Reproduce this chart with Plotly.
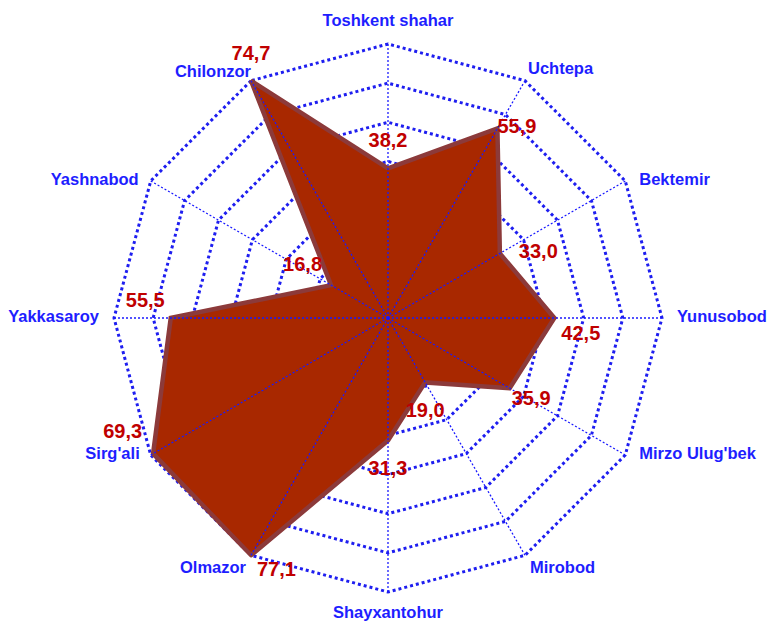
import plotly.graph_objects as go

categories = ["Toshkent shahar", "Uchtepa", "Bektemir", "Yunusobod", "Mirzo Ulug'bek",
              "Mirobod", "Shayxantohur", "Olmazor", "Sirg'ali", "Yakkasaroy",
              "Yashnabod", "Chilonzor"]
values = [38.2, 55.9, 33.0, 42.5, 35.9, 19.0, 31.3, 77.1, 69.3, 55.5, 16.8, 74.7]
r_max = 70
r_dtick = 10

# value-label placement (style only): side of the point and pixel distance from it
label_positions = ["top center", "middle right", "middle right", "bottom right",
                   "bottom right", "bottom center", "bottom center", "bottom right",
                   "top left", "top left", "top left", "top center"]
label_gap_px = [16, 0, 19, 7, 2, 20, 19, 6, 11, 6, 9, 16]

# category-label placement (style only)
cat_positions = ["top center", "top right", "middle right", "middle right",
                 "middle right", "bottom right", "bottom center", "bottom left",
                 "middle left", "middle left", "middle left", "top left"]
cat_gap_px = [14, 3, 14, 15, 14, 5, 14, 5, 11, 15, 12, 0]

plot_vals = [min(v, r_max) for v in values]          # axis maximum clips the shape
labels = [f"{v:.1f}".replace(".", ",") for v in values]


def gap_to_size(gaps):
    return [max(0.0, 1.6 * (g - 1)) for g in gaps]


BLUE = "rgb(30,30,255)"
GRID = "rgb(30,30,240)"
FONT = "Liberation Sans, Arial, sans-serif"
range_pad = 1.008
R_px = 274 * range_pad
cx, cy = 388, 318

fig = go.Figure()

# filled area
fig.add_trace(go.Scatterpolar(
    r=plot_vals + plot_vals[:1],
    theta=categories + categories[:1],
    mode="lines",
    fill="toself",
    fillcolor="rgb(168,40,0)",
    line=dict(color="rgb(140,58,58)", width=4.5),
    hoverinfo="skip", cliponaxis=False,
))

# spokes drawn on top of the fill
spoke_r, spoke_t = [], []
for c in categories:
    spoke_r += [0, r_max, None]
    spoke_t += [c, c, c]
fig.add_trace(go.Scatterpolar(
    r=spoke_r, theta=spoke_t, mode="lines",
    line=dict(color="rgb(25,25,255)", width=1.3, dash="2px,2px"),
    hoverinfo="skip", connectgaps=False, cliponaxis=False,
))

# value labels
fig.add_trace(go.Scatterpolar(
    r=plot_vals, theta=categories, mode="markers+text",
    marker=dict(size=gap_to_size(label_gap_px), color="rgba(0,0,0,0)",
                line=dict(width=0, color="rgba(0,0,0,0)")),
    text=labels, textposition=label_positions,
    textfont=dict(family=FONT, size=20, color="rgb(192,0,0)", weight="bold"),
    hoverinfo="skip", cliponaxis=False,
))

# category labels at the outer ring
fig.add_trace(go.Scatterpolar(
    r=[r_max] * len(categories), theta=categories, mode="markers+text",
    marker=dict(size=gap_to_size(cat_gap_px), color="rgba(0,0,0,0)",
                line=dict(width=0, color="rgba(0,0,0,0)")),
    text=categories, textposition=cat_positions,
    textfont=dict(family=FONT, size=16.5, color=BLUE, weight="bold"),
    hoverinfo="skip", cliponaxis=False,
))

fig.update_layout(
    width=771, height=625,
    margin=dict(l=0, r=0, t=0, b=0),
    paper_bgcolor="white",
    showlegend=False,
    polar=dict(
        domain=dict(x=[(cx - R_px) / 771, (cx + R_px) / 771],
                    y=[1 - (cy + R_px) / 625, 1 - (cy - R_px) / 625]),
        gridshape="linear",
        bgcolor="white",
        radialaxis=dict(
            range=[0, r_max * range_pad], dtick=r_dtick, tick0=0,
            showticklabels=False, ticks="", showline=False,
            gridcolor=GRID, gridwidth=3, griddash="3px,3px",
        ),
        angularaxis=dict(
            rotation=90, direction="clockwise",
            showline=False, showgrid=False, ticks="",
            showticklabels=False,
        ),
    ),
)

fig.write_html("out.html", config={"displayModeBar": False},
               post_script="document.body.style.margin='0px';")
